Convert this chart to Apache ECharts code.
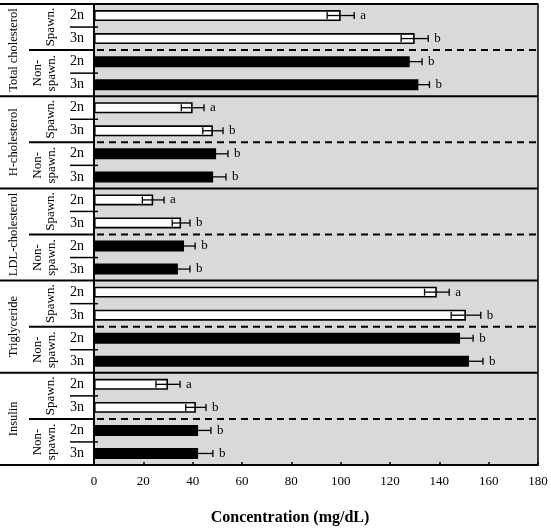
<!DOCTYPE html>
<html><head><meta charset="utf-8">
<script src="https://cdn.jsdelivr.net/npm/echarts@6/dist/echarts.min.js"></script>
<style>html,body{margin:0;padding:0;background:#fff}#c{width:551px;height:530px}</style>
</head><body><div id="c"></div>
<script>
// ---- data ----
const groups = ['Total cholesterol', 'H-cholesterol', 'LDL-cholesterol', 'Triglyceride', 'Insulin'];
const spawnLabels = ['Spawn.', 'Non-\nspawn.'];
const ploidy = ['2n', '3n'];
// order within each group: Spawn 2n, Spawn 3n, Non-spawn 2n, Non-spawn 3n
const meanTotal = [100, 130, 128, 131.5];
const errTotal  = [5.5, 5.5, 5, 4.5];
const letTotal  = ['a', 'b', 'b', 'b'];
const meanH = [40, 48.2, 49.5, 48.3];
const errH  = [4.6, 4.1, 4.8, 5.2];
const letH  = ['a', 'b', 'b', 'b'];
const meanLDL = [24, 35.3, 36.5, 34];
const errLDL  = [4.4, 3.6, 4.5, 4.9];
const letLDL  = ['a', 'b', 'b', 'b'];
const meanTG = [139, 150.8, 148.4, 152];
const errTG  = [5, 6, 5.3, 5.7];
const letTG  = ['a', 'b', 'b', 'b'];
const meanIns = [30, 41.3, 42.2, 42.2];
const errIns  = [4.9, 4.1, 5.2, 6];
const letIns  = ['a', 'b', 'b', 'b'];
const xTicks = [0, 20, 40, 60, 80, 100, 120, 140, 160, 180];
const xTitle = 'Concentration (mg/dL)';

// ---- build ----
const means = [meanTotal, meanH, meanLDL, meanTG, meanIns];
const errs = [errTotal, errH, errLDL, errTG, errIns];
const lets = [letTotal, letH, letLDL, letTG, letIns];
const categories = [];
const barData = [];
const errData = [];
groups.forEach((g, gi) => {
  for (let k = 0; k < 4; k++) {
    const s = Math.floor(k / 2), p = k % 2;
    const cat = g + '|' + s + '|' + ploidy[p];
    categories.push(cat);
    barData.push({ value: means[gi][k], itemStyle: { color: s === 0 ? '#ffffff' : '#000000' } });
    errData.push([means[gi][k], cat, errs[gi][k], lets[gi][k]]);
  }
});

const FONT = '"Liberation Serif", "Times New Roman", serif';
const chart = echarts.init(document.getElementById('c'), null, { renderer: 'canvas' });
const option = {
  animation: false,
  backgroundColor: '#ffffff',
  grid: { left: 94, right: 13, top: 4, bottom: 65, show: true, backgroundColor: '#d9d9d9', borderColor: '#000', borderWidth: 1.5 },
  xAxis: {
    type: 'value', min: xTicks[0], max: xTicks[xTicks.length - 1], interval: 20,
    axisLine: { show: true, lineStyle: { color: '#000', width: 1.5 } },
    axisTick: { show: true, inside: true, length: 3, lineStyle: { color: '#000', width: 1.5 } },
    axisLabel: { color: '#000', fontFamily: FONT, fontSize: 13, margin: 10 },
    splitLine: { show: false }
  },
  yAxis: {
    type: 'category', data: categories, inverse: true,
    axisLine: { show: true, lineStyle: { color: '#000', width: 2 } },
    axisTick: { show: false },
    axisLabel: { color: '#000', fontFamily: FONT, fontSize: 14, margin: 10, formatter: v => v.split('|')[2] }
  },
  series: [
    {
      type: 'bar', data: barData, barWidth: 11,
      itemStyle: { borderColor: '#000', borderWidth: 1.6 }
    },
    {
      type: 'custom', data: errData, z: 5,
      renderItem: function (params, api) {
        const m = api.value(0), e = api.value(2);
        const cat = api.value(1);
        const lo = api.coord([m - e, cat]);
        const hi = api.coord([m + e, cat]);
        const y = lo[1];
        const c = 3.5;
        const letter = errData[params.dataIndex][3];
        return {
          type: 'group', children: [
            { type: 'line', shape: { x1: lo[0], y1: y, x2: hi[0], y2: y }, style: { stroke: '#000', lineWidth: 1.3 } },
            { type: 'line', shape: { x1: lo[0], y1: y - c, x2: lo[0], y2: y + c }, style: { stroke: '#000', lineWidth: 1.3 } },
            { type: 'line', shape: { x1: hi[0], y1: y - c, x2: hi[0], y2: y + c }, style: { stroke: '#000', lineWidth: 1.3 } },
            { type: 'text', x: hi[0] + 6, y: y, style: { text: letter, fill: '#000', font: '13px ' + FONT, textAlign: 'left', textVerticalAlign: 'middle' } }
          ]
        };
      }
    }
  ]
};
chart.setOption(option);

// decorations: separators and left-panel labels
const yPix = c => chart.convertToPixel({ yAxisIndex: 0 }, c);
const band = yPix(categories[1]) - yPix(categories[0]);
const xRight = chart.convertToPixel({ xAxisIndex: 0 }, xTicks[xTicks.length - 1]);
const xLeft = chart.convertToPixel({ xAxisIndex: 0 }, xTicks[0]);
const g = [];
const solid = (x1, y, x2, w) => g.push({ type: 'line', z: 100, shape: { x1, y1: y, x2, y2: y }, style: { stroke: '#000', lineWidth: w || 2 } });
const dashed = (x1, y, x2) => g.push({ type: 'line', z: 100, shape: { x1, y1: y, x2, y2: y }, style: { stroke: '#000', lineWidth: 2, lineDash: [7, 5] } });
const txt = (x, y, text, size, rot) => g.push({ type: 'text', z: 100, x, y, rotation: rot || 0, style: { text, fill: '#000', font: size + 'px ' + FONT, textAlign: 'center', textVerticalAlign: 'middle', lineHeight: size + 1 } });

const topY = yPix(categories[0]) - band / 2;
solid(0, topY, xRight, 2);
groups.forEach((gname, gi) => {
  const y0 = yPix(categories[gi * 4]) - band / 2;
  const yEnd = y0 + 4 * band;
  solid(0, yEnd, xRight, 2);
  txt(14, (y0 + yEnd) / 2, gname, 12.5, Math.PI / 2);
  for (let s = 0; s < 2; s++) {
    const sy0 = y0 + s * 2 * band;
    txt(s === 0 ? 51 : 45, sy0 + band, spawnLabels[s], 13, Math.PI / 2);
    solid(70, sy0 + band, xLeft + 4, 1.5);
  }
  solid(29, y0 + 2 * band, xLeft, 2);
  dashed(xLeft + 3, y0 + 2 * band, xRight);
});
txt(290, 518, xTitle, 16, 0);
g[g.length - 1].style.font = 'bold 16px ' + FONT;
chart.setOption({ graphic: g });
</script>
</body></html>
